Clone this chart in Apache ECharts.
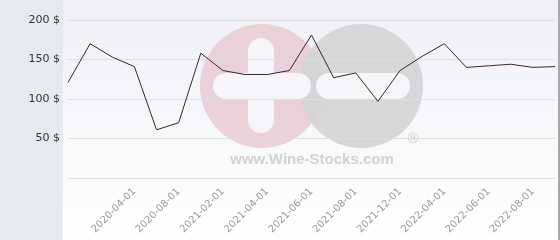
<!DOCTYPE html>
<html>
<head>
<meta charset="utf-8">
<script src="https://cdn.jsdelivr.net/npm/echarts@6/dist/echarts.min.js"></script>
<style>html,body{margin:0;padding:0;background:#fff}#c{width:560px;height:240px}</style>
</head>
<body>
<div id="c"></div>
<script>
const dates = ['2020-01-01','2020-02-01','2020-03-01','2020-04-01','2020-06-01','2020-08-01','2020-12-01','2021-02-01','2021-03-01','2021-04-01','2021-05-01','2021-06-01','2021-07-01','2021-08-01','2021-10-01','2021-12-01','2022-02-01','2022-04-01','2022-05-01','2022-06-01','2022-07-01','2022-08-01','2022-09-01'];
const prices = [121,170,153,141,61,70,158,136,131,131,136,181,127,133,97,136,154,170,140,142,144,140,141];
const labelledDates = ['2020-04-01','2020-08-01','2021-02-01','2021-04-01','2021-06-01','2021-08-01','2021-12-01','2022-04-01','2022-06-01','2022-08-01'];
const yTicks = [0,50,100,150,200];

const chart = echarts.init(document.getElementById('c'), null, {renderer:'canvas'});
const wmWhite = '#f5f6f9';
chart.setOption({
  animation:false,
  grid:{left:68,right:5,top:20,bottom:62,containLabel:false},
  graphic:[
    {type:'rect',z:-20,shape:{x:0,y:0,width:63,height:240},style:{fill:'#e6eaed'}},
    {type:'rect',z:-20,shape:{x:63,y:0,width:495,height:240},style:{fill:new echarts.graphic.LinearGradient(0,0,0,1,[{offset:0,color:'#eef0f5'},{offset:1,color:'#ffffff'}])}},
    {type:'rect',z:-20,shape:{x:558,y:0,width:2,height:240},style:{fill:'#a8a8a8'}},
    {type:'circle',z:-15,shape:{cx:262,cy:86,r:62},style:{fill:'#e9ccd4',opacity:0.9}},
    {type:'circle',z:-14,shape:{cx:361,cy:86,r:62},style:{fill:'#d5d5d6',opacity:0.95}},
    {type:'rect',z:-13,shape:{x:248,y:38,width:26,height:95,r:13},style:{fill:wmWhite}},
    {type:'rect',z:-13,shape:{x:213,y:73,width:98,height:26,r:13},style:{fill:wmWhite}},
    {type:'rect',z:-13,shape:{x:316,y:73,width:94,height:26,r:13},style:{fill:wmWhite}},
    {type:'text',z:-13,style:{x:312,y:160,text:'www.Wine-Stocks.com',fill:'#d2d2d2',font:'bold 15px "Liberation Sans", Arial, sans-serif',textAlign:'center',textVerticalAlign:'middle'}},
    {type:'text',z:-13,style:{x:413,y:139,text:'®',fill:'#cfcfcf',font:'15px "Liberation Sans", Arial, sans-serif',textAlign:'center',textVerticalAlign:'middle'}}
  ],
  xAxis:{
    type:'category',
    data:dates,
    boundaryGap:false,
    axisLine:{show:false},
    axisTick:{show:false},
    axisLabel:{
      rotate:45,
      margin:12,
      color:'#999999',
      fontSize:10,
      fontFamily:'DejaVu Sans',
      interval:(i,v)=>labelledDates.indexOf(v)>=0
    }
  },
  yAxis:{
    type:'value',
    min:yTicks[0],
    max:yTicks[yTicks.length-1],
    interval:50,
    axisLine:{show:false},
    axisTick:{show:false},
    splitLine:{lineStyle:{color:'#dedede',width:1}},
    axisLabel:{
      margin:8,
      color:'#333333',
      fontSize:11,
      fontFamily:'DejaVu Sans',
      formatter:v=>v===0?'':v+' $'
    }
  },
  series:[{
    type:'line',
    data:prices,
    symbol:'none',
    lineStyle:{color:'#3f2232',width:1},
    z:5
  }]
});
</script>
</body>
</html>
